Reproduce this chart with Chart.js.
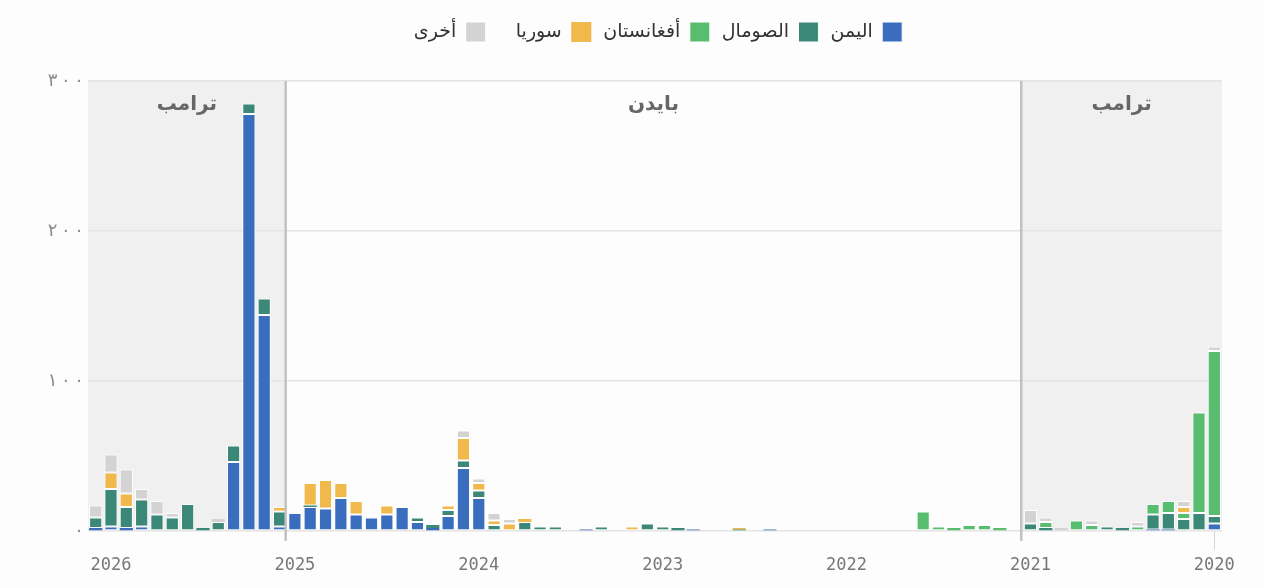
<!DOCTYPE html>
<html lang="ar">
<head>
<meta charset="utf-8">
<script src="https://cdn.jsdelivr.net/npm/chart.js@4.4.1/dist/chart.umd.min.js"></script>
<style>
  html, body { margin: 0; padding: 0; background: #fdfdfd; }
  #wrap { width: 1264px; height: 588px; }
</style>
</head>
<body>
<div id="wrap"><canvas id="strikes" width="1264" height="588"></canvas></div>
<script>
// monthly counts, Jan 2020 .. Feb 2026 (chronological)
var startYear = 2020;
var yearTicks = ['2020', '2021', '2022', '2023', '2024', '2025', '2026'];
var seriesNames = ['اليمن', 'الصومال', 'أفغانستان', 'سوريا', 'أخرى'];
var periodNames = ['ترامب', 'بايدن', 'ترامب'];

var yemen = [5, 0, 0, 1, 1, 0, 0, 0, 0, 0, 0, 0,
             0, 0, 0, 0, 0, 0, 0, 0, 0, 0, 0, 0,
             0, 0, 0, 0, 0, 1, 0, 0, 0, 0, 1, 0,
             0, 0, 0, 0, 0, 1, 0, 0, 0, 0, 0, 0,
             22, 42, 10, 2, 6, 16, 11, 9, 11, 22, 15, 16,
             12, 3, 144, 278, 46, 0, 0, 0, 0, 0, 3, 2,
             3, 2];
var somalia = [5, 12, 8, 11, 10, 0, 2, 3, 0, 0, 0, 2,
               5, 0, 0, 0, 0, 0, 0, 0, 0, 0, 0, 0,
               0, 0, 0, 0, 0, 0, 0, 1, 0, 0, 0, 2,
               3, 5, 0, 0, 3, 0, 0, 3, 3, 6, 0, 4,
               5, 5, 4, 2, 3, 0, 0, 0, 0, 0, 0, 1,
               0, 10, 11, 7, 11, 6, 2, 18, 9, 11, 18, 14,
               25, 7];
var afghanistan = [110, 67, 4, 8, 7, 3, 0, 0, 4, 7, 0, 4,
                   0, 0, 2, 4, 4, 2, 3, 13, 0, 0, 0, 0,
                   0, 0, 0, 0, 0, 0, 0, 0, 0, 0, 0, 0,
                   0, 0, 0, 0, 0, 0, 0, 0, 0, 0, 0, 0,
                   0, 0, 0, 0, 0, 0, 0, 0, 0, 0, 0, 0,
                   0, 0, 0, 0, 0, 0, 0, 0, 0, 0, 0, 0,
                   0, 0];
var syria = [0, 0, 4, 0, 0, 0, 0, 0, 0, 0, 0, 0,
             0, 0, 0, 0, 0, 0, 0, 0, 0, 0, 0, 0,
             0, 0, 0, 0, 0, 0, 0, 1, 0, 0, 0, 0,
             0, 0, 3, 0, 0, 0, 0, 0, 0, 2, 5, 3,
             5, 15, 3, 0, 0, 0, 6, 0, 9, 10, 19, 15,
             0, 3, 0, 0, 0, 0, 0, 0, 0, 0, 0, 9,
             11, 0];
var other = [3, 0, 4, 0, 0, 3, 0, 0, 3, 0, 2, 3,
             9, 0, 0, 0, 0, 0, 0, 0, 0, 0.5, 0, 0.5,
             0.5, 0, 0, 0.5, 0.5, 0, 0, 0, 0.5, 0, 0, 0,
             0, 0, 0, 0.5, 0, 0, 0, 0, 0, 0, 3, 5,
             3, 5, 0, 0, 0, 0, 0, 0, 0, 0, 0, 0,
             0, 0, 0, 0, 0, 2, 0, 0, 3, 9, 7, 16,
             12, 8];

var colors = ['#3a6dbd', '#3b8878', '#58bd6f', '#f1b84b', '#d3d3d3'];

var months = [];
for (var i = 0; i < yemen.length; i++) {
    months.push((startYear + Math.floor(i / 12)) + '-' + String(i % 12 + 1).padStart(2, '0'));
}

function arabicDigits(n) {
    var s = String(n).split('').map(function (d) { return '٠١٢٣٤٥٦٧٨٩'[d]; }).join('\u2009');
    return '\u202D' + s + '\u202C';
}

// a term starts Jan 20 -> fraction between Jan and Feb
function termIndex(year) {
    return (year - startYear) * 12 + 0.6;
}

function pixelAt(scale, idx) {
    var a = scale.getPixelForValue(Math.floor(idx));
    var b = scale.getPixelForValue(Math.floor(idx) + 1);
    return a + (b - a) * (idx - Math.floor(idx));
}

var periodsPlugin = {
    id: 'periods',
    beforeInit: function (chart) {
        var fit = chart.legend.fit;
        chart.legend.fit = function () {
            fit.bind(chart.legend)();
            this.height = 71;
        };
    },
    afterLayout: function (chart) {
        chart.legend.left += 47;
        chart.legend.right += 47;
    },
    beforeDraw: function (chart) {
        var ctx = chart.ctx;
        var area = chart.chartArea;
        var x = chart.scales.x;
        var x2021 = pixelAt(x, termIndex(2021));
        var x2025 = pixelAt(x, termIndex(2025));
        ctx.save();
        ctx.fillStyle = '#fdfdfd';
        ctx.fillRect(0, 0, chart.width, chart.height);
        ctx.fillStyle = '#f0f0f0';
        ctx.fillRect(area.left, area.top, x2025 - area.left, area.bottom - area.top);
        ctx.fillRect(x2021, area.top, area.right - x2021, area.bottom - area.top);
        ctx.restore();
    },
    afterDatasetsDraw: function (chart) {
        var ctx = chart.ctx;
        var area = chart.chartArea;
        var x = chart.scales.x;
        var x2021 = pixelAt(x, termIndex(2021));
        var x2025 = pixelAt(x, termIndex(2025));
        ctx.save();
        ctx.strokeStyle = '#c2c2c2';
        ctx.lineWidth = 2.5;
        [x2021, x2025].forEach(function (px) {
            ctx.beginPath();
            ctx.moveTo(px, area.top);
            ctx.lineTo(px, area.bottom + 10);
            ctx.stroke();
        });
        ctx.fillStyle = '#666666';
        ctx.font = 'bold 20px "DejaVu Sans", sans-serif';
        ctx.textAlign = 'center';
        ctx.textBaseline = 'middle';
        ctx.direction = 'rtl';
        var ty = area.top + 24;
        ctx.fillText(periodNames[0], (area.left + x2025) / 2, ty);
        ctx.fillText(periodNames[1], (x2025 + x2021) / 2, ty);
        ctx.fillText(periodNames[2], (x2021 + area.right) / 2, ty);
        ctx.restore();
    }
};

var seriesData = [yemen, somalia, afghanistan, syria, other];
var datasets = seriesNames.map(function (name, k) {
    return {
        label: name,
        data: seriesData[k],
        backgroundColor: colors[k],
        borderColor: '#ffffff',
        borderWidth: function (c) { return c.raw < 3 ? 0 : 1; },
        borderSkipped: false,
        categoryPercentage: 1.0,
        barPercentage: 0.86
    };
});

new Chart(document.getElementById('strikes'), {
    type: 'bar',
    data: { labels: months, datasets: datasets },
    plugins: [periodsPlugin],
    options: {
        responsive: false,
        animation: false,
        layout: { padding: { top: 10, right: 42, left: 0, bottom: 0 } },
        plugins: {
            tooltip: { enabled: false },
            legend: {
                position: 'top',
                align: 'center',
                rtl: true,
                textDirection: 'rtl',
                labels: {
                    boxWidth: 20,
                    boxHeight: 20,
                    padding: 12,
                    color: '#333333',
                    font: { size: 19, family: '"DejaVu Sans", sans-serif' },
                    generateLabels: function (chart) {
                        var items = Chart.defaults.plugins.legend.labels.generateLabels(chart);
                        items[3].text = items[3].text + '   ';
                        return items;
                    }
                }
            }
        },
        scales: {
            x: {
                type: 'category',
                reverse: true,
                stacked: true,
                offset: true,
                border: { display: false },
                grid: {
                    offset: false,
                    drawOnChartArea: false,
                    drawTicks: true,
                    tickLength: 19,
                    tickColor: function (c) {
                        return months[c.index] && months[c.index].slice(5) === '01' ? '#d6d6d6' : 'rgba(0,0,0,0)';
                    }
                },
                ticks: {
                    autoSkip: false,
                    maxRotation: 0,
                    padding: 5,
                    color: '#777777',
                    font: { size: 17, family: '"DejaVu Sans Mono", monospace' },
                    callback: function (val, idx) {
                        var m = months[idx];
                        if (m.slice(5) !== '01') return null;
                        var y = m.slice(0, 4);
                        return yearTicks.indexOf(y) >= 0 ? y : null;
                    }
                },
                afterFit: function (scale) { scale.height = 57; }
            },
            y: {
                stacked: true,
                min: 0,
                max: 300,
                border: { display: false },
                grid: { color: '#e4e4e4', lineWidth: 1.5, drawTicks: false },
                ticks: {
                    stepSize: 100,
                    padding: 4,
                    color: '#8a8a8a',
                    font: { size: 18, family: '"DejaVu Sans", sans-serif' },
                    callback: function (v) { return arabicDigits(v); }
                },
                afterFit: function (scale) { scale.width = 88; }
            }
        }
    }
});
</script>
</body>
</html>
